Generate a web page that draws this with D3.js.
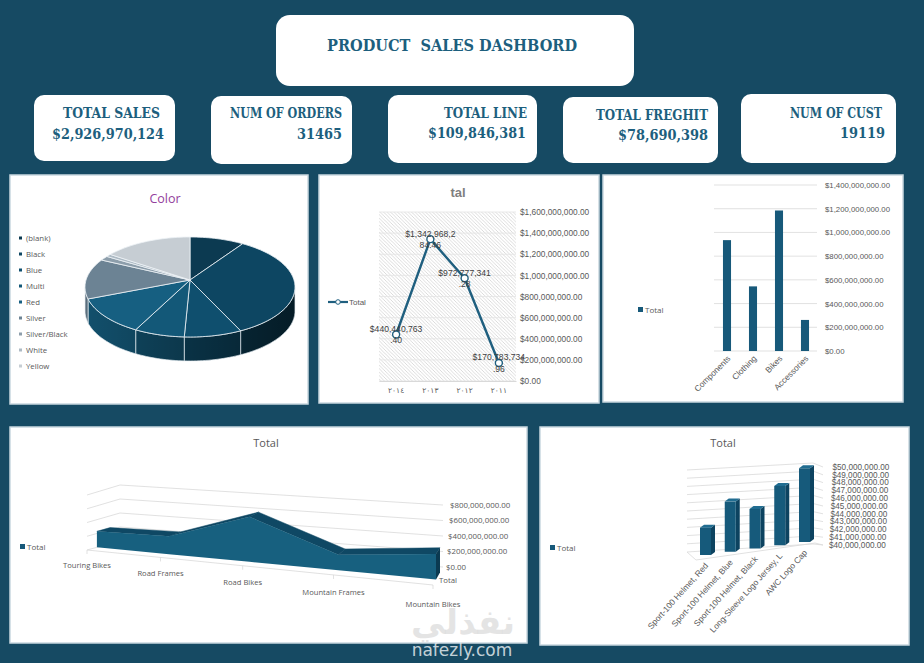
<!DOCTYPE html>
<html>
<head>
<meta charset="utf-8">
<script src="https://cdn.jsdelivr.net/npm/d3@7"></script>
<style>
  body { margin: 0; background: #164a63; }
  svg { display: block; }
</style>
</head>
<body>
<svg id="dash" width="924" height="663"></svg>
<script>
// ---- data ----
var kpiLabels = ["TOTAL SALES", "NUM OF ORDERS", "TOTAL LINE", "TOTAL FREGHIT", "NUM OF CUST"];
var kpiValues = ["$2,926,970,124", "31465", "$109,846,381", "$78,690,398", "19119"];

var colorNames = ["(blank)", "Black", "Blue", "Multi", "Red", "Silver", "Silver/Black", "White", "Yellow"];
var colorSales = [245e6, 985e6, 260e6, 228e6, 366e6, 378e6, 41e6, 24e6, 402e6];

var years = ["٢٠١٤", "٢٠١٣", "٢٠١٢", "٢٠١١"];
var yearSales = [440440763.40, 1342968284.46, 972777341.28, 170783734.96];
var yearTicks = [0, 2e8, 4e8, 6e8, 8e8, 10e8, 12e8, 14e8, 16e8];

var categories = ["Components", "Clothing", "Bikes", "Accessories"];
var categorySales = [935e6, 545e6, 1185e6, 262e6];
var categoryTicks = [0, 2e8, 4e8, 6e8, 8e8, 10e8, 12e8, 14e8];

var subcats = ["Touring Bikes", "Road Frames", "Road Bikes", "Mountain Frames", "Mountain Bikes"];
var subcatSales = [231e6, 248e6, 599e6, 197e6, 309e6];
var subcatTicks = [0, 2e8, 4e8, 6e8, 8e8];

var products = ["Sport-100 Helmet, Red", "Sport-100 Helmet, Blue", "Sport-100 Helmet, Black", "Long-Sleeve Logo Jersey, L", "AWC Logo Cap"];
var productSales = [43.6e6, 46.6e6, 45.2e6, 47.8e6, 49.7e6];
var productTicks = [40e6, 41e6, 42e6, 43e6, 44e6, 45e6, 46e6, 47e6, 48e6, 49e6, 50e6];

// ---- styles ----
var teal = "#1d5f7e",
    barBlue = "#17597a",
    grey = "#595959",
    gridCol = "#d9d9d9",
    deco = "'DejaVu Serif Condensed', 'DejaVu Serif', serif",
    sans = "'Liberation Sans', 'DejaVu Sans', sans-serif",
    ui = "'Open Sans', 'DejaVu Sans', sans-serif",
    money = d3.format("$,.2f");

function lerp(a, b, t) { return a + (b - a) * t; }

var svg = d3.select("#dash");
svg.append("rect").attr("width", 924).attr("height", 663).attr("fill", "#164a63");
var defs = svg.append("defs");

// ---- header + kpi cards ----
svg.append("rect").attr("x", 276).attr("y", 15).attr("width", 358).attr("height", 71)
  .attr("rx", 14).attr("fill", "#fff");
svg.append("text").attr("x", 452).attr("y", 51).attr("text-anchor", "middle")
  .style("white-space", "pre")
  .attr("font-family", deco).attr("font-weight", "bold").attr("font-size", 17)
  .attr("textLength", 250).attr("lengthAdjust", "spacingAndGlyphs")
  .attr("fill", teal).text("PRODUCT  SALES DASHBORD");

var cards = [
  {x: 34,  y: 95, w: 141, h: 66, lx: 160, ly: 118, lw: 97,  vx: 164, vy: 139, vw: 112},
  {x: 211, y: 96, w: 141, h: 68, lx: 342, ly: 118, lw: 112, vx: 342, vy: 139, vw: 45},
  {x: 388, y: 95, w: 149, h: 68, lx: 527, ly: 118, lw: 83,  vx: 526, vy: 138, vw: 98},
  {x: 563, y: 97, w: 155, h: 66, lx: 708, ly: 120, lw: 112, vx: 708, vy: 140, vw: 90},
  {x: 741, y: 94, w: 155, h: 69, lx: 882, ly: 118, lw: 92,  vx: 885, vy: 138, vw: 45}
];
cards.forEach(function(c, i) {
  svg.append("rect").attr("x", c.x).attr("y", c.y).attr("width", c.w).attr("height", c.h)
    .attr("rx", 10).attr("fill", "#fff");
  svg.append("text").attr("x", c.lx).attr("y", c.ly).attr("text-anchor", "end")
    .attr("font-family", deco).attr("font-weight", "bold").attr("font-size", 14)
    .attr("textLength", c.lw).attr("lengthAdjust", "spacingAndGlyphs")
    .attr("fill", teal).text(kpiLabels[i]);
  svg.append("text").attr("x", c.vx).attr("y", c.vy).attr("text-anchor", "end")
    .attr("font-family", deco).attr("font-weight", "bold").attr("font-size", 15)
    .attr("textLength", c.vw).attr("lengthAdjust", "spacingAndGlyphs")
    .attr("fill", teal).text(kpiValues[i]);
});

// ---- chart panels ----
var panels = [[10, 175, 298, 229], [319, 175, 280, 228], [603, 175, 300, 227],
              [10, 427, 517, 216], [540, 427, 369, 218]];
panels.forEach(function(p) {
  svg.append("rect").attr("x", p[0]).attr("y", p[1]).attr("width", p[2]).attr("height", p[3])
    .attr("fill", "#fff").attr("stroke", "#c9d7df").attr("stroke-width", 1.5);
});

function legendSquare(x, y, col) {
  svg.append("rect").attr("x", x).attr("y", y - 3).attr("width", 5).attr("height", 5).attr("fill", col);
  svg.append("text").attr("x", x + 7).attr("y", y).attr("dy", "0.35em")
    .attr("font-family", ui).attr("font-size", 8).attr("fill", grey).text("Total");
}

// ---- 3D pie: Color ----
var pieCols = ["#0c3a51", "#0d4662", "#0f4f6e", "#135878", "#165f81", "#6c8394", "#8d9eab", "#adbac4", "#c6cdd3"];
svg.append("text").attr("x", 165).attr("y", 199).attr("dy", "0.35em").attr("text-anchor", "middle")
  .attr("font-family", ui).attr("font-size", 12.5).attr("fill", "#93409c").text("Color");

colorNames.forEach(function(n, i) {
  var y = 238 + i * 16;
  svg.append("rect").attr("x", 19).attr("y", y - 1.5).attr("width", 3).attr("height", 3).attr("fill", pieCols[i]);
  svg.append("text").attr("x", 26).attr("y", y).attr("dy", "0.35em")
    .attr("font-family", ui).attr("font-size", 7.8).attr("fill", grey).text(n);
});

var pc = {cx: 190, cy: 287, ax: 190, ay: 280, rx: 105, ry: 50, depth: 24};
function ep(a, dy) { return [pc.cx + pc.rx * Math.sin(a), pc.cy - pc.ry * Math.cos(a) + (dy || 0)]; }
function arcPts(a0, a1, dy) {
  var n = Math.max(2, Math.ceil((a1 - a0) / 0.03)), pts = [];
  for (var k = 0; k <= n; k++) pts.push(ep(a0 + (a1 - a0) * k / n, dy));
  return pts;
}
var slices = d3.pie().sort(null).value(function(d) { return d; })(colorSales);
var poly = d3.line();

var sideGrad = defs.append("linearGradient").attr("id", "sideShade")
  .attr("gradientUnits", "userSpaceOnUse").attr("x1", 85).attr("x2", 295).attr("y1", 0).attr("y2", 0);
sideGrad.append("stop").attr("offset", 0).attr("stop-color", "#000").attr("stop-opacity", 0.05);
sideGrad.append("stop").attr("offset", 1).attr("stop-color", "#000").attr("stop-opacity", 0.55);

var pieG = svg.append("g");
slices.forEach(function(s, i) {
  var a0 = Math.max(s.startAngle, Math.PI / 2), a1 = Math.min(s.endAngle, 3 * Math.PI / 2);
  if (a1 <= a0) return;
  var top = arcPts(a0, a1, 0), bot = arcPts(a0, a1, pc.depth).reverse();
  var d = poly(top.concat(bot)) + "Z";
  pieG.append("path").attr("d", d).attr("fill", d3.color(pieCols[i]).darker(0.35));
  pieG.append("path").attr("d", d).attr("fill", "url(#sideShade)")
    .attr("stroke", "#e8eef2").attr("stroke-width", 0.7);
});
slices.forEach(function(s, i) {
  var pts = [[pc.ax, pc.ay]].concat(arcPts(s.startAngle, s.endAngle, 0));
  pieG.append("path").attr("d", poly(pts) + "Z").attr("fill", pieCols[i])
    .attr("stroke", "#eef3f6").attr("stroke-width", 0.8).attr("stroke-linejoin", "round");
});

// ---- line chart: by year ----
var lx = d3.scaleBand().domain(years).range([379, 516]);
var ly = d3.scaleLinear().domain([0, 1.6e9]).range([381, 212]);

var hatch = defs.append("pattern").attr("id", "hatch").attr("patternUnits", "userSpaceOnUse")
  .attr("width", 3.5).attr("height", 3.5);
hatch.append("path").attr("d", "M0,0L3.5,3.5M-1,2.5L1,4.5M2.5,-1L4.5,1")
  .attr("stroke", "#c4c4c4").attr("stroke-width", 0.6);
svg.append("rect").attr("x", 379).attr("y", 212).attr("width", 137).attr("height", 169).attr("fill", "url(#hatch)");
svg.append("g").selectAll("line").data(yearTicks).join("line")
  .attr("x1", 379).attr("x2", 516).attr("y1", ly).attr("y2", ly)
  .attr("stroke", "#e3e3e3").attr("stroke-width", 0.8);

var lyAxis = svg.append("g").attr("transform", "translate(516,0)")
  .call(d3.axisRight(ly).tickValues(yearTicks).tickFormat(money).tickSize(0).tickPadding(4));
lyAxis.select(".domain").remove();
lyAxis.selectAll("text").attr("font-family", sans).attr("font-size", 8.3).attr("fill", grey);

var lxAxis = svg.append("g").attr("transform", "translate(0,381)")
  .call(d3.axisBottom(lx).tickSize(0).tickPadding(7));
lxAxis.select(".domain").attr("stroke", "#d9d9d9");
lxAxis.selectAll("text").attr("font-family", sans).attr("font-size", 7.5).attr("fill", grey);

svg.append("text").attr("x", 458).attr("y", 192).attr("dy", "0.35em").attr("text-anchor", "middle")
  .attr("font-family", sans).attr("font-weight", "bold").attr("font-size", 13).attr("fill", "#7f7f7f").text("tal");

var linePts = years.map(function(y, i) { return [lx(y) + lx.bandwidth() / 2, ly(yearSales[i])]; });
svg.append("path").attr("d", d3.line()(linePts)).attr("fill", "none")
  .attr("stroke", "#1f5f7f").attr("stroke-width", 2.4).attr("stroke-linejoin", "round");
svg.append("g").selectAll("circle").data(linePts).join("circle")
  .attr("cx", function(d) { return d[0]; }).attr("cy", function(d) { return d[1]; }).attr("r", 3.5)
  .attr("fill", "#fff").attr("stroke", "#1f5f7f").attr("stroke-width", 1.4);
linePts.forEach(function(p, i) {
  var s = money(yearSales[i]);
  var t = svg.append("text").attr("text-anchor", "middle").attr("font-family", sans)
    .attr("font-size", 8.6).attr("fill", "#404040");
  t.append("tspan").attr("x", p[0]).attr("y", p[1] - 5.5).attr("dy", "0.35em").text(s.slice(0, 12));
  t.append("tspan").attr("x", p[0]).attr("y", p[1] + 6).attr("dy", "0.35em").text(s.slice(12));
});
svg.append("line").attr("x1", 328).attr("x2", 348).attr("y1", 302).attr("y2", 302)
  .attr("stroke", "#1f5f7f").attr("stroke-width", 2.2);
svg.append("circle").attr("cx", 338).attr("cy", 302).attr("r", 2.3)
  .attr("fill", "#fff").attr("stroke", "#1f5f7f").attr("stroke-width", 1);
svg.append("text").attr("x", 349).attr("y", 302).attr("dy", "0.35em")
  .attr("font-family", sans).attr("font-size", 8).attr("fill", grey).text("Total");

// ---- column chart: by category ----
var cx = d3.scaleBand().domain(categories).range([714, 818]).paddingInner(0.69).paddingOuter(0.345);
var cy = d3.scaleLinear().domain([0, 1.4e9]).range([351, 185]);
svg.append("g").selectAll("line").data(categoryTicks).join("line")
  .attr("x1", 714).attr("x2", 817).attr("y1", cy).attr("y2", cy)
  .attr("stroke", gridCol).attr("stroke-width", 0.8);
var cyAxis = svg.append("g").attr("transform", "translate(817,0)")
  .call(d3.axisRight(cy).tickValues(categoryTicks).tickFormat(money).tickSize(0).tickPadding(8));
cyAxis.select(".domain").remove();
cyAxis.selectAll("text").attr("font-family", sans).attr("font-size", 7.8).attr("fill", grey);
svg.append("g").selectAll("rect").data(categories).join("rect")
  .attr("x", function(d) { return cx(d); }).attr("width", cx.bandwidth())
  .attr("y", function(d, i) { return cy(categorySales[i]); })
  .attr("height", function(d, i) { return cy(0) - cy(categorySales[i]); })
  .attr("fill", barBlue);
svg.append("g").selectAll("text").data(categories).join("text")
  .attr("transform", function(d) { return "translate(" + (cx(d) + cx.bandwidth() / 2 + 2) + ",357) rotate(-45)"; })
  .attr("text-anchor", "end").attr("dy", "0.35em")
  .attr("font-family", sans).attr("font-size", 8.3).attr("fill", grey).text(function(d) { return d; });
legendSquare(638, 310, barBlue);

// ---- 3D area chart: by subcategory ----
svg.append("text").attr("x", 266).attr("y", 443).attr("dy", "0.35em").attr("text-anchor", "middle")
  .attr("font-family", ui).attr("font-size", 11).attr("fill", grey).text("Total");
legendSquare(20, 547, barBlue);

var A = {fl: [87, 550], fr: [433, 585], bl: [120, 541], br: [443, 567], hfl: 55, hfr: 68, hbl: 56, hbr: 62};
var areaT = d3.scalePoint().domain(subcats).range([0, 1]);
var areaV = d3.scaleLinear().domain([0, 8e8]).range([0, 1]);
function warp(t) { return t * (0.8 + 0.2 * t); }
function aP(s, d, v) {
  var x0 = lerp(A.fl[0], A.bl[0], d), y0 = lerp(A.fl[1], A.bl[1], d);
  var x1 = lerp(A.fr[0], A.br[0], d), y1 = lerp(A.fr[1], A.br[1], d);
  var h = lerp(lerp(A.hfl, A.hfr, s), lerp(A.hbl, A.hbr, s), d);
  return [lerp(x0, x1, s), lerp(y0, y1, s) - areaV(v) * h];
}
var ag = svg.append("g").attr("fill", "none").attr("stroke", gridCol).attr("stroke-width", 0.8);
subcatTicks.forEach(function(v) {
  ag.append("path").attr("d", poly([aP(0, 0, v), aP(0, 1, v), aP(1, 1, v)]));
});
ag.append("path").attr("d", poly([aP(0, 0, 0), aP(1, 0, 0)]));
subcats.forEach(function(c) {
  var p = aP(warp(areaT(c)), 0, 0);
  ag.append("path").attr("d", poly([p, [p[0], p[1] + 4]]));
});
subcatTicks.forEach(function(v) {
  var p = aP(1, 1, v);
  svg.append("text").attr("x", p[0] + 3 + areaV(v) * 4).attr("y", p[1]).attr("dy", "0.35em")
    .attr("font-family", ui).attr("font-size", 7.9).attr("fill", grey).text(money(v));
});
var d0 = 0.3, d1 = 0.7;
var sArr = subcats.map(function(c) { return warp(areaT(c)); });
for (var i = 0; i < subcats.length - 1; i++) {
  svg.append("path").attr("d", poly([aP(sArr[i], d0, subcatSales[i]), aP(sArr[i + 1], d0, subcatSales[i + 1]),
      aP(sArr[i + 1], d1, subcatSales[i + 1]), aP(sArr[i], d1, subcatSales[i])]) + "Z")
    .attr("fill", "#0f4864").attr("stroke", "#0f4864").attr("stroke-width", 0.5);
}
var last = subcats.length - 1;
svg.append("path").attr("d", poly([aP(1, d0, subcatSales[last]), aP(1, d1, subcatSales[last]),
    aP(1, d1, 0), aP(1, d0, 0)]) + "Z").attr("fill", "#0b3a51");
var frontTop = sArr.map(function(s, i) { return aP(s, d0, subcatSales[i]); });
var frontBot = sArr.map(function(s) { return aP(s, d0, 0); }).reverse();
svg.append("path").attr("d", poly(frontTop.concat(frontBot)) + "Z").attr("fill", "#17607f");
subcats.forEach(function(c, i) {
  var s = sArr[i], p = aP(s, 0, 0);
  svg.append("text").attr("x", p[0]).attr("y", p[1] + 15 + 4 * s).attr("dy", "0.35em")
    .attr("text-anchor", "middle").attr("font-family", ui).attr("font-size", 7.6).attr("fill", grey).text(c);
});
var tl = aP(1, 0.5, 0);
svg.append("text").attr("x", tl[0] + 1).attr("y", tl[1] + 4).attr("dy", "0.35em")
  .attr("font-family", ui).attr("font-size", 7.8).attr("fill", grey).text("Total");

// ---- 3D column chart: top products ----
svg.append("text").attr("x", 723).attr("y", 443).attr("dy", "0.35em").attr("text-anchor", "middle")
  .attr("font-family", ui).attr("font-size", 11).attr("fill", grey).text("Total");
legendSquare(550, 548, barBlue);

var wallL = d3.scaleLinear().domain([40e6, 50e6]).range([552, 470]);
var wallR = d3.scaleLinear().domain([40e6, 50e6]).range([544, 463]);
var wallS = d3.scaleLinear().domain([40e6, 50e6]).range([545, 467]);
var bg = svg.append("g").attr("fill", "none").attr("stroke", gridCol).attr("stroke-width", 0.8);
productTicks.forEach(function(v) {
  bg.append("path").attr("d", poly([[687, wallL(v)], [813, wallR(v)], [823, wallS(v)]]));
});
bg.append("path").attr("d", poly([[687, 552], [696, 560], [815, 543], [823, 545]]));
productTicks.forEach(function(v, i) {
  svg.append("text").attr("x", 829 + i * 0.35).attr("y", wallS(v)).attr("dy", "0.35em")
    .attr("font-family", sans).attr("font-size", 8.2).attr("fill", grey).text(money(v));
});
var bt = d3.scalePoint().domain(products).range([0, 1]);
var bh = d3.scaleLinear().domain([40e6, 50e6]).range([0, 76]);
products.forEach(function(p, i) {
  var t = bt(p), xc = lerp(705.5, 804.5, t), yb = lerp(555, 542, t);
  var h = bh(productSales[i]), x0 = xc - 5.5, x1 = xc + 5.5, yt = yb - h;
  svg.append("path").attr("d", poly([[x1, yt], [x1 + 4, yt - 3], [x1 + 4, yb - 3], [x1, yb]]) + "Z").attr("fill", "#0d4360");
  svg.append("path").attr("d", poly([[x0, yt], [x1, yt], [x1 + 4, yt - 3], [x0 + 4, yt - 3]]) + "Z").attr("fill", "#216d91");
  svg.append("rect").attr("x", x0).attr("y", yt).attr("width", x1 - x0).attr("height", h).attr("fill", "#165a7b");
  svg.append("text").attr("transform", "translate(" + (xc + 1) + "," + (yb + 9) + ") rotate(-48)")
    .attr("text-anchor", "end").attr("dy", "0.35em")
    .attr("font-family", sans).attr("font-size", 8.4).attr("fill", grey).text(p);
});

// ---- watermark ----
svg.append("text").attr("x", 463).attr("y", 634).attr("text-anchor", "middle")
  .attr("font-family", "'DejaVu Sans', sans-serif").attr("font-weight", "bold").attr("font-size", 34)
  .attr("fill", "#dcdcdc").attr("fill-opacity", 0.75).text("نفذلي");
svg.append("text").attr("x", 462).attr("y", 656).attr("text-anchor", "middle")
  .attr("font-family", "'DejaVu Sans', sans-serif").attr("font-size", 17)
  .attr("fill", "#e3eaee").attr("fill-opacity", 0.85).text("nafezly.com");
</script>
</body>
</html>
